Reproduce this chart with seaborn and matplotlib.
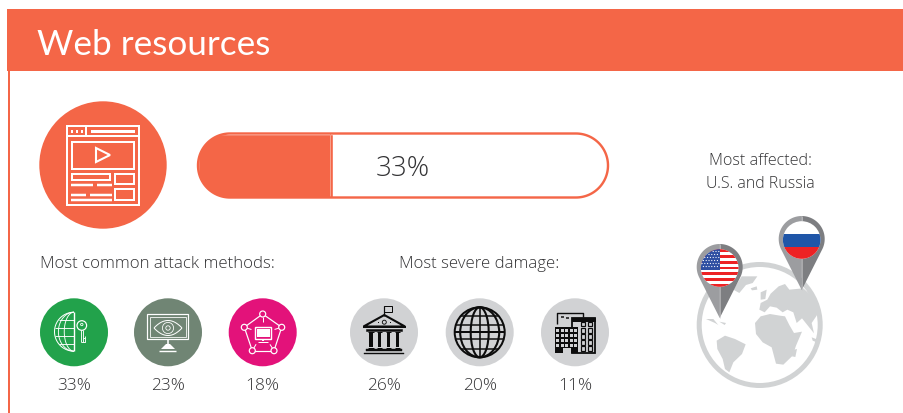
import numpy as np
import matplotlib
matplotlib.use("Agg")
import matplotlib.pyplot as plt
from matplotlib.patches import Circle, Ellipse, Polygon, Rectangle
from matplotlib.transforms import TransformedPath
import pandas as pd
import seaborn as sns

# Figures shown on the panel
section_title = "Web resources"
overall_share = 33
attack_title = "Most common attack methods:"
attack_values = [33, 23, 18]
attack_colors = ["#22A24B", "#708574", "#E3127A"]
damage_title = "Most severe damage:"
damage_values = [26, 20, 11]
damage_colors = ["#D1D2D4", "#D1D2D4", "#D1D2D4"]
affected_lines = ["Most affected:", "U.S. and Russia"]

ORANGE = "#F46647"
TEXT = "#333335"
W, H = 904, 414

sns.set_theme(style="white")
plt.rcParams["font.family"] = ["Open Sans", "DejaVu Sans"]
plt.rcParams["font.weight"] = "light"

fig = plt.figure(figsize=(W / 100, H / 100), dpi=100, facecolor="white")
page = fig.add_axes([0, 0, 1, 1])
page.set_xlim(0, W)
page.set_ylim(H, 0)
page.axis("off")

PT = 72 / 100  # points per pixel


def line(xs, ys, color="white", lw=1.5, z=5):
    page.plot(xs, ys, color=color, lw=lw * PT, solid_capstyle="butt", zorder=z)


def rect(x0, y0, x1, y1, edge="white", fill="none", lw=1.5, z=5):
    page.add_patch(Rectangle((x0, y0), x1 - x0, y1 - y0, ec=edge, fc=fill, lw=lw * PT, zorder=z))


def ring(x, y, r, edge="white", fill="none", lw=1.2, z=6):
    page.add_patch(Circle((x, y), r, ec=edge, fc=fill, lw=lw * PT, zorder=z))


# Header band and left rule
page.add_patch(Rectangle((7, 10), W - 7, 62, fc=ORANGE, ec="none"))
page.add_patch(Rectangle((7.7, 72), 2, H - 72, fc=ORANGE, ec="none"))
page.text(37, 55, section_title, color="white", fontsize=25.3, va="baseline", ha="left",
          family=["Lato", "DejaVu Sans"], weight="normal")

# Large badge with the browser window
page.add_patch(Circle((103, 166), 63.7, fc=ORANGE, ec="none"))
rect(67, 126.5, 139, 206, lw=2)
line([67, 139], [136.5, 136.5], lw=2)
line([86.5, 86.5], [126.5, 136.5], lw=2)
for dx in (72.5, 77.5, 82):
    rect(dx - 1, 131, dx + 1, 133.5, edge="none", fill="white")
rect(91, 130.5, 135, 133.5, edge="none", fill="white")
rect(72.5, 142.5, 134, 170, lw=2)
page.add_patch(Polygon([(96, 149), (110, 156), (96, 163)], closed=True, ec="white", fc="none", lw=1.5, zorder=5))
rect(72.5, 175, 110.5, 181, lw=2)
rect(115.5, 175, 134, 185, lw=2)
rect(115.5, 190, 134, 200.5, lw=2)
for y, gap in ((185.5, 95), (195.5, 88), (201, None)):
    if gap:
        line([71, gap - 2], [y, y], lw=2.5)
        line([gap + 2, 112], [y, y], lw=2.5)
    else:
        line([71, 112], [y, y], lw=2.5)

# Progress bar: a white stadium-shaped track with a share-long fill
track_x, track_y, track_w, track_h = 198, 134.5, 410, 64
cap = track_h / 2
ang_r = np.linspace(-np.pi / 2, np.pi / 2, 60)
ang_l = np.linspace(np.pi / 2, 3 * np.pi / 2, 60)
stadium = np.vstack([
    np.column_stack([track_x + track_w - cap + cap * np.cos(ang_r), track_y + cap + cap * np.sin(ang_r)]),
    np.column_stack([track_x + cap + cap * np.cos(ang_l), track_y + cap + cap * np.sin(ang_l)]),
])
track = Polygon(stadium, closed=True, fc="white", ec="none", zorder=2)
page.add_patch(track)

bar_ax = fig.add_axes([track_x / W, 1 - (track_y + track_h) / H, track_w / W, track_h / H])
sns.barplot(
    data=pd.DataFrame({"row": [""], "share": [overall_share]}),
    x="share", y="row", orient="h", width=1, color=ORANGE, saturation=1, ax=bar_ax,
)
bar_ax.set_xlim(0, 100)
bar_ax.set_ylim(0.5, -0.5)
bar_ax.axis("off")
bar_ax.patch.set_alpha(0)
clip = TransformedPath(track.get_path(), track.get_transform())
for bar in bar_ax.patches:
    bar.set_clip_path(clip)
bar_ax.plot([overall_share - 2.8 / track_w * 100] * 2, [-0.5, 0.5], color="#F9A18D", lw=0.7, zorder=5)
# outline sits above the fill so no seam shows along the rounded edge
bar_ax.add_patch(Polygon(stadium, closed=True, fc="none", ec=ORANGE, lw=2.4 * PT,
                         transform=page.transData, clip_on=False, zorder=6))
page.text(403, 176, f"{overall_share}%", color=TEXT, fontsize=20, ha="center", va="baseline")

# Section captions
page.text(157.5, 268, attack_title, color=TEXT, fontsize=12.1, ha="center", va="baseline")
page.text(479.5, 268, damage_title, color=TEXT, fontsize=12.1, ha="center", va="baseline")
page.text(760, 165, affected_lines[0], color=TEXT, fontsize=11.6, ha="center", va="baseline")
page.text(760, 188, affected_lines[1], color=TEXT, fontsize=11.4, ha="center", va="baseline")

# Percentage discs
disc_x = [74, 168, 262.7, 384, 479.7, 575]
disc_y = 333.3
disc_values = attack_values + damage_values
discs = pd.DataFrame({
    "x": disc_x,
    "y": [disc_y] * 6,
    "key": range(6),
})
sns.scatterplot(
    data=discs, x="x", y="y", hue="key",
    palette=attack_colors + damage_colors,
    s=(68 * PT) ** 2, linewidth=0, legend=False, ax=page, zorder=3,
)
page.set_xlim(0, W)
page.set_ylim(H, 0)
page.axis("off")
for x, v in zip(disc_x, disc_values):
    page.text(x, 390.5, f"{v}%", color=TEXT, fontsize=12.5, ha="center", va="baseline")

# Half globe and key
cx, cy, r = 74, 332.7, 19.5
theta = np.linspace(np.pi / 2, 3 * np.pi / 2, 60)
line(cx + r * np.cos(theta), cy + r * np.sin(theta), lw=1)
line([cx, cx], [cy - r, cy + r], lw=1.4)
for w in (0.5, 0.8):
    line(cx + w * r * np.cos(theta), cy + r * np.sin(theta), lw=0.9)
for dy in (-12, -4, 4, 12):
    hw = np.sqrt(r ** 2 - dy ** 2)
    line([cx - hw, cx], [cy + dy, cy + dy], lw=0.9)
ring(81.8, 326.5, 4.8, lw=1.2)
ring(81.8, 325.5, 1.2, lw=0.8)
line([80.8, 80.8], [331, 343], lw=0.9)
line([83, 83], [331, 343], lw=0.9)
line([80.8, 85, 85], [343, 343, 336.5], lw=0.9)
line([83, 85], [339, 339], lw=0.9)

# Monitor with eye
rect(147.5, 315, 188.5, 340, lw=1.2)
rect(150, 317.5, 186, 337.5, lw=0.8)
t = np.linspace(-1, 1, 40)
line(168 + 14 * t, 329 - 7.5 * (1 - t ** 2), lw=1)
line(168 + 14 * t, 329 + 7.5 * (1 - t ** 2), lw=1)
ring(168, 329, 5.6, lw=0.8)
ring(168, 329, 2.2, lw=0.8)
line([168, 168], [340, 345], lw=1.6)
page.add_patch(Polygon([(166, 345), (170, 345), (175, 350), (161, 350)], fc="white", ec="none", zorder=5))
line([159, 176], [352, 352], lw=1.4)

# Network pentagon around a small monitor
nodes = [(262.7, 315), (281.7, 328.3), (274, 351.7), (252.3, 351.7), (244.3, 328.3)]
for (x0, y0), (x1, y1) in zip(nodes, nodes[1:] + nodes[:1]):
    line([x0, x1], [y0, y1], lw=1.2)
for (nx, ny) in nodes:
    ring(nx, ny, 3, fill="#E3127A", lw=1.2)
    dx, dy = 262.7 - nx, 334 - ny
    d = np.hypot(dx, dy)
    line([nx + 3 * dx / d, nx + 7.5 * dx / d], [ny + 3 * dy / d, ny + 7.5 * dy / d], lw=1)
rect(255.5, 328, 271.5, 339.5, lw=1.4)
rect(257, 329.5, 270, 338, edge="none", fill="white")
line([263, 263], [339.5, 342], lw=2)
line([258.5, 268], [342.5, 342.5], lw=1)

# Bank building
K = "#0C0C0C"
line([384.3, 384.3], [306.5, 317], color=K, lw=1.2)
rect(384.3, 306.8, 392.3, 312.8, edge=K, lw=1)
page.add_patch(Polygon([(363.5, 327.5), (384.3, 316), (405, 327.5)], closed=True, ec=K, fc="none", lw=1.5, zorder=5))
line([363, 406], [328, 328], color=K, lw=2)
ring(384.3, 323.2, 2, edge=K, lw=0.9)
for dx in (-6, 6):
    rect(384.3 + dx - 0.7, 322.5, 384.3 + dx + 0.7, 324, edge="none", fill=K)
rect(366.5, 329.5, 402.5, 332, edge=K, fill=K, lw=0.5)
for x in (370.8, 379.5, 388.5, 397.5):
    line([x - 2.8, x + 2.8], [333, 333], color=K, lw=1)
    rect(x - 1.8, 334, x + 1.8, 348, edge="none", fill=K)
    line([x - 2.8, x + 2.8], [348.8, 348.8], color=K, lw=1)
rect(366.5, 350, 402.5, 352, edge=K, fill=K, lw=0.4)
rect(364.5, 353.5, 404, 355, edge=K, fill=K, lw=0.4)

# Wireframe globe
gx, gy, gr = 479.7, 333.3, 25
ring(gx, gy, gr, edge=K, lw=2)
for w in (0.36, 0.78):
    page.add_patch(Ellipse((gx, gy), 2 * w * gr, 2 * gr, ec=K, fc="none", lw=1.5, zorder=6))
line([gx, gx], [gy - gr, gy + gr], color=K, lw=1.6)
for dy in (-16.5, -7, 0, 7, 16.5):
    hw = np.sqrt(gr ** 2 - dy ** 2)
    line([gx - hw, gx + hw], [gy + dy, gy + dy], color=K, lw=2 if dy == 0 else 1.5)

# Office blocks
line([557.5, 557.5, 583.5, 583.5], [325, 313.5, 313.5, 318], color=K, lw=1.4)
line([561, 564], [318, 318], color=K, lw=1.5)
line([566, 569], [319, 319], color=K, lw=1.5)
rect(572.5, 318.5, 595, 354, edge=K, fill="#D1D2D4", lw=1.8)
rect(572.5, 318.5, 595, 322, edge=K, fill=K, lw=1)
for row_y in (322.5, 329, 335, 341, 347):
    for col_x in (581, 588):
        rect(col_x, row_y + 0.3, col_x + 4.5, row_y + 4.5, edge=K, lw=1.2)
rect(555, 327.5, 578.5, 354, edge="none", fill=K)
for row_y in (330, 335, 340, 345):
    for col_x in (556.5, 561, 565.5, 570, 574.5):
        rect(col_x, row_y, col_x + 3, row_y + 3.2, edge="none", fill="#D1D2D4")
rect(563, 349, 571, 353.5, edge="none", fill="#D1D2D4")

# World globe, outlines traced in local units around the ring
GREY = "#D1D3D4"


def land(points):
    pts = [(670 + x / 3, 200 + y / 3) for x, y in points]
    page.add_patch(Polygon(pts, closed=True, fc=GREY, ec="none", zorder=2))


page.add_patch(Circle((759.7, 326), 60.5, fc="none", ec=GREY, lw=5 * PT, zorder=2))
land([(215, 232), (262, 232), (248, 252), (228, 258), (208, 282), (190, 272)])
land([(242, 268), (260, 262), (262, 272), (246, 274)])
land([(108, 360), (130, 360), (145, 378), (162, 388), (135, 372)])
land([(148, 368), (168, 372), (164, 378)])
land([(140, 425), (165, 410), (195, 420), (227, 436), (216, 465), (190, 490), (178, 520), (165, 510), (158, 480), (142, 450)])
land([(255, 372), (272, 352), (300, 345), (330, 350), (345, 352), (358, 378), (372, 402), (396, 398), (378, 440), (368, 470), (340, 497), (318, 494), (305, 445), (278, 430), (258, 405)])
land([(268, 332), (272, 312), (292, 302), (302, 284), (326, 262), (345, 255), (358, 272), (400, 268), (430, 295), (447, 325), (440, 350), (425, 372), (432, 403), (412, 378), (396, 358), (380, 372), (370, 340), (352, 332), (338, 340), (320, 326), (300, 322), (284, 340)])
land([(272, 280), (290, 272), (286, 300), (272, 302)])
land([(372, 452), (381, 450), (376, 474), (366, 472)])
land([(425, 415), (438, 420), (448, 410), (440, 430), (428, 425)])


def pin(cx, cy, tip_y, z=8):
    # Head circle with a tapered point, lighter on the left half
    r = 23
    d = tip_y - cy
    a = np.arccos(r / d)
    left = [(cx + r * np.cos(p), cy + r * np.sin(p)) for p in np.linspace(np.pi - (np.pi / 2 - a), 3 * np.pi / 2, 40)]
    left = [(cx, tip_y)] + left
    right = [(2 * cx - x, y) for x, y in left]
    page.add_patch(Polygon(left, closed=True, fc="#9C9DA0", ec="none", zorder=z))
    page.add_patch(Polygon(right, closed=True, fc="#7D7E81", ec="none", zorder=z))
    line([cx, cx], [cy - 23, cy - 18], color="#D8D8DA", lw=0.6, z=z + 1)
    line([cx, cx], [cy + 18, tip_y], color="#C8C8CA", lw=0.6, z=z + 1)
    return Circle((cx, cy + 1), 18.8, transform=page.transData)


usa_clip = pin(719.7, 268, 319, z=8)
page.add_patch(Circle(usa_clip.center, 18.8, fc="white", ec="none", zorder=9))
stripe_h = 2 * 18.8 / 13
for i in range(0, 13, 2):
    p = page.add_patch(Rectangle((695, usa_clip.center[1] - 18.8 + i * stripe_h), 50, stripe_h, fc="#ED2224", ec="none", zorder=10))
    p.set_clip_path(usa_clip)
canton = page.add_patch(Rectangle((695, 250), 24.7, 20.5, fc="#2F4FA2", ec="none", zorder=11))
canton.set_clip_path(usa_clip)
for row in range(6):
    for col in range(7):
        sx = 702 + col * 2.8 + (row % 2) * 1.4
        sy = 252.5 + row * 3
        if sx < 719.5 and np.hypot(sx - 719.7, sy - 269) < 18.5:
            page.add_patch(Circle((sx, sy), 0.6, fc="white", ec="none", zorder=12))

rus_clip = pin(801.7, 240, 291, z=8)
page.add_patch(Circle(rus_clip.center, 18.8, fc="white", ec="none", zorder=9))
for top, color in ((234.5, "#1F56A8"), (247.5, "#ED2224")):
    p = page.add_patch(Rectangle((780, top), 45, 13 if top < 240 else 14, fc=color, ec="none", zorder=10))
    p.set_clip_path(rus_clip)

fig.savefig("out.png", dpi=100, facecolor="white")
